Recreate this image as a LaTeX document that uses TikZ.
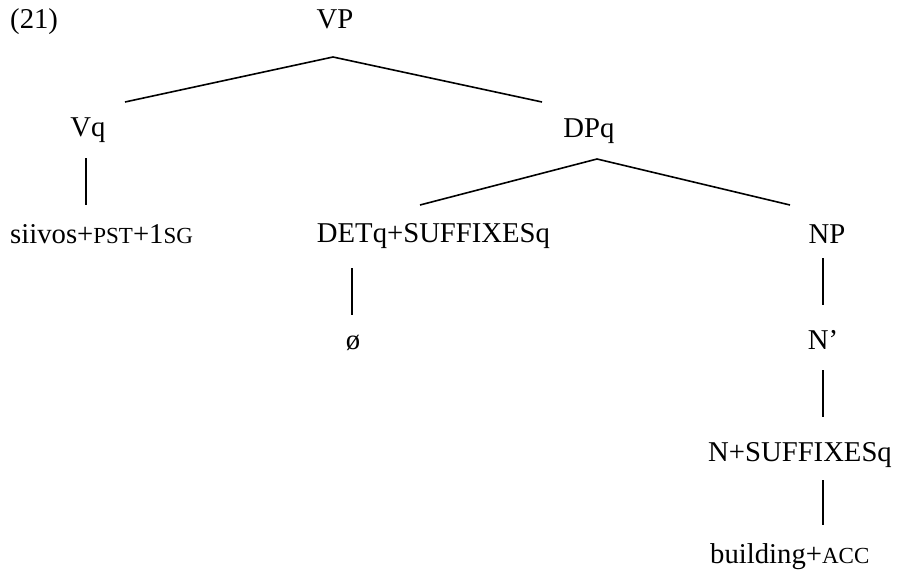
\documentclass[tikz,border=0pt]{standalone}
\usepackage{fontspec}
\setmainfont{Liberation Serif}
\newcommand\smcap[1]{{\fontsize{23}{23}\selectfont #1}}
\tikzset{
  lbl/.style={inner sep=0pt, anchor=base, font=\fontsize{28.7}{30}\selectfont},
  lblw/.style={lbl, anchor=base west},
  branch/.style={line width=1.6pt, line cap=butt}
}
\begin{document}
\begin{tikzpicture}[x=1pt,y=-1pt]
\useasboundingbox (0,0) rectangle (897,570);
% labels
\node[lblw] (ex)   at (10,28)  {(21)};
\node[lbl]  (VP)   at (335,28) {VP};
\node[lbl]  (Vq)   at (88,136) {Vq};
\node[lbl]  (DPq)  at (589,137) {DPq};
\node[lblw] (verb) at (10,243) {siivos+\smcap{PST}+1\smcap{SG}};
\node[lbl]  (DET)  at (433.5,242) {DETq+SUFFIXESq};
\node[lbl]  (NP)   at (827,243) {NP};
\node[lbl]  (zero) at (353,349) {ø};
\node[lbl]  (Nbar) at (823,349) {N’};
\node[lblw] (N)    at (708,461) {N+SUFFIXESq};
\node[lblw] (noun) at (710,563) {building+\smcap{ACC}};
% branch end points
\coordinate (VPa)  at (333,57);
\coordinate (VqT)  at (125,102);
\coordinate (DPqT) at (542,102);
\coordinate (Vqb)  at (86,158);
\coordinate (verbT) at (86,205);
\coordinate (DPa)  at (597,159);
\coordinate (DETT) at (420,205);
\coordinate (NPT)  at (790,205);
\coordinate (DETb) at (352,268);
\coordinate (zeroT) at (352,315);
\coordinate (NPb)  at (823,258);
\coordinate (NbarT) at (823,305);
\coordinate (Nbarb) at (823,370);
\coordinate (NT)   at (823,417);
\coordinate (Nb)   at (823,480);
\coordinate (nounT) at (823,525);
% branches
\draw[branch] (VqT) -- (VPa) -- (DPqT);
\draw[branch] (Vqb) -- (verbT);
\draw[branch] (DETT) -- (DPa) -- (NPT);
\draw[branch] (DETb) -- (zeroT);
\draw[branch] (NPb) -- (NbarT);
\draw[branch] (Nbarb) -- (NT);
\draw[branch] (Nb) -- (nounT);
\end{tikzpicture}
\end{document}
